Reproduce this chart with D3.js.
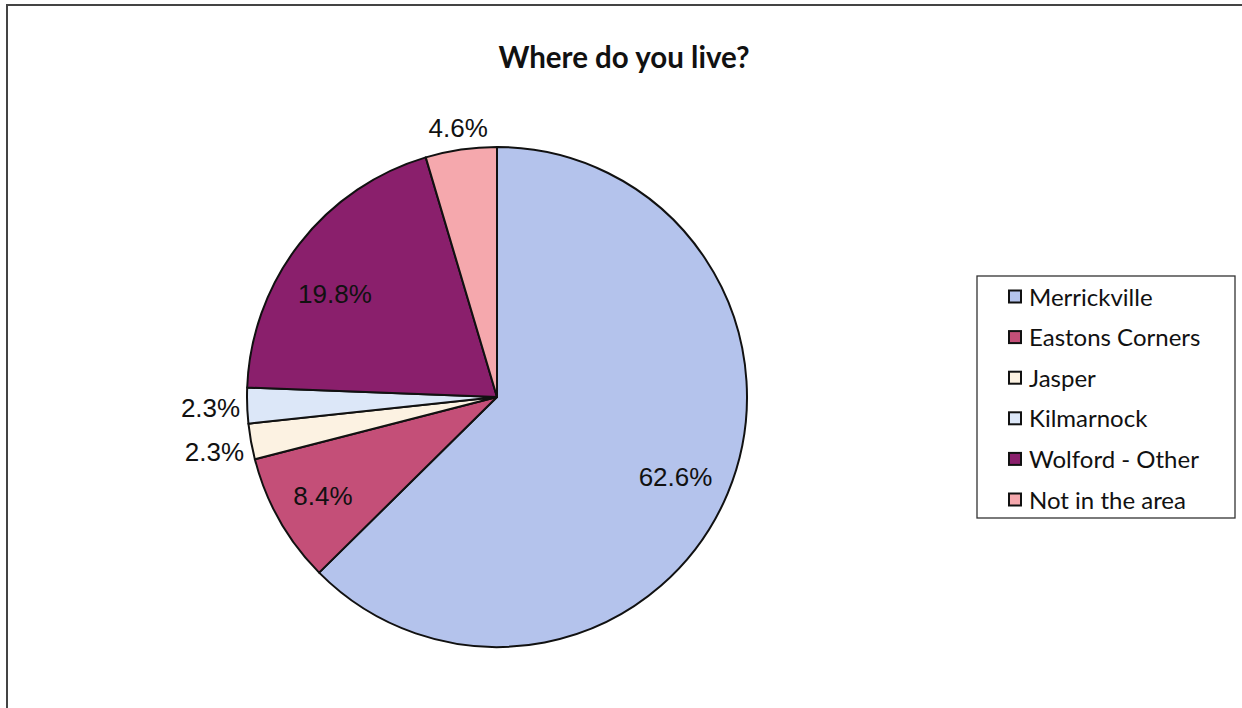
<!DOCTYPE html>
<html><head><meta charset="utf-8">
<script src="https://cdn.jsdelivr.net/npm/d3@7"></script>
<style>body{margin:0;background:#fff}svg{display:block}</style>
</head><body>
<svg id="c" width="1242" height="708"></svg>
<script>
const categories = ["Merrickville","Eastons Corners","Jasper","Kilmarnock","Wolford - Other","Not in the area"];
const values = [62.6, 8.4, 2.3, 2.3, 19.8, 4.6];
const labels = ["62.6%","8.4%","2.3%","2.3%","19.8%","4.6%"];
const colors = ["#b4c3ec","#c44f78","#fcf2e2","#dce7f8","#8a1f6c","#f5a8ad"];

const svg = d3.select("#c");
// frame
svg.append("path").attr("d","M7,712 L7,5 L1250,5").attr("fill","none").attr("stroke","#444").attr("stroke-width",2);

svg.append("text").attr("x",624).attr("y",68).attr("text-anchor","middle")
  .attr("font-family","Lato, 'Open Sans', sans-serif").attr("font-weight","bold").attr("font-size",29.5)
  .attr("fill","#111").text("Where do you live?");

const cx = 497, cy = 397, r = 250;
const pie = d3.pie().sort(null).value(d=>d)(values);
const arc = d3.arc().innerRadius(0).outerRadius(r);
const g = svg.append("g").attr("transform",`translate(${cx},${cy})`);
g.selectAll("path").data(pie).join("path")
  .attr("d",arc).attr("fill",(d,i)=>colors[i])
  .attr("stroke","#111").attr("stroke-width",2).attr("stroke-linejoin","round");

const outside = [false,false,true,true,false,true];
const lg = g.append("g").attr("font-family","'Liberation Sans', Arial, sans-serif").attr("font-size",26).attr("fill","#111");
pie.forEach((d,i)=>{
  const a = (d.startAngle+d.endAngle)/2;
  let x,y,anchor="middle";
  if(!outside[i]){
    x = Math.sin(a)*r*0.8; y = -Math.cos(a)*r*0.8;
    if(i===4){ x -= 4; y += 19; }
    if(i===0){ x -= 6; y += 3; }
  }
  else if(i===5){ x = Math.sin(a)*(r+20); y = -Math.cos(a)*(r+22); }
  else { x = Math.sin(a)*(r+7); y = -Math.cos(a)*(r+57); anchor="end"; }
  lg.append("text").attr("x",x).attr("y",y).attr("dy","0.35em").attr("text-anchor",anchor).text(labels[i]);
});

// legend
const lx = 977, ly = 276, lw = 258, lh = 242;
svg.append("rect").attr("x",lx).attr("y",ly).attr("width",lw).attr("height",lh)
  .attr("fill","#fff").attr("stroke","#333").attr("stroke-width",1.3);
const leg = svg.append("g");
categories.forEach((c,i)=>{
  const y = 297 + i*40.6;
  leg.append("rect").attr("x",1009).attr("y",y-6.5).attr("width",12).attr("height",12)
    .attr("fill",colors[i]).attr("stroke","#111").attr("stroke-width",2);
  leg.append("text").attr("x",1029).attr("y",y).attr("dy","0.36em")
    .attr("font-family","Lato, 'Open Sans', sans-serif").attr("font-size",24).attr("fill","#111").text(c);
});
</script>
</body></html>
